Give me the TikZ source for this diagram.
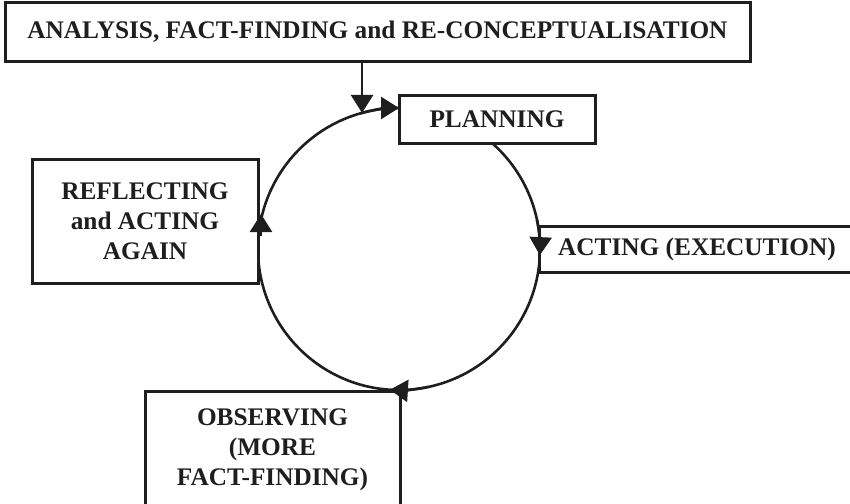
\documentclass[tikz,border=0pt]{standalone}
\usepackage{fontspec}
\setmainfont{Liberation Serif}
\usetikzlibrary{arrows.meta}
\definecolor{ink}{HTML}{1E1E1E}
\begin{document}
\begin{tikzpicture}[x=1pt,y=-1pt,
  txt/.style={font=\bfseries\fontsize{25.3}{30}\selectfont, text=ink, align=center, inner sep=0pt},
  box/.style={txt, draw=ink, line width=3pt, fill=white},
  ring/.style={draw=ink, line width=2.6pt},
  tip/.style={-{Triangle[width=22pt,length=18pt]}, draw=ink, line width=2.6pt}]
\useasboundingbox (0,0) rectangle (850,503);
\clip (0,0) rectangle (850,503);
\coordinate (o) at (399,249);
\draw[ring] (o) circle[radius=141];
\node[box, minimum width=745pt, minimum height=58pt] (top) at (377.5,32) {ANALYSIS, FACT-FINDING and RE-CONCEPTUALISATION};
\node[box, minimum width=196pt, minimum height=48pt] (plan) at (497,119) {PLANNING};
\node[box, minimum width=316pt, minimum height=46pt] (act) at (697,249) {ACTING (EXECUTION)};
\node[box, minimum width=226pt, minimum height=124pt] (refl) at (145,221) {REFLECTING\\and ACTING\\AGAIN};
\draw[box] (145,391) rectangle (400,520);
\node[txt] (obs) at (272.5,450) {OBSERVING\\(MORE\\FACT-FINDING)};
% arrowheads on the cycle
\draw[tip] (o) ++(254:141) arc[start angle=254, end angle=270, radius=141];
\draw[tip] (o) ++(-12:141) arc[start angle=-12, end angle=2.5, radius=141];
\draw[tip] (o) ++(78:141) arc[start angle=78, end angle=93.7, radius=141];
\coordinate (lb) at (261,236);
\coordinate (lt) at (261,214);
\draw[tip] (lb) -- (lt);
% input arrow
\path (o) ++(254.8:141) coordinate (c);
\draw[tip] (top.south -| c) -- (c);
\end{tikzpicture}
\end{document}
